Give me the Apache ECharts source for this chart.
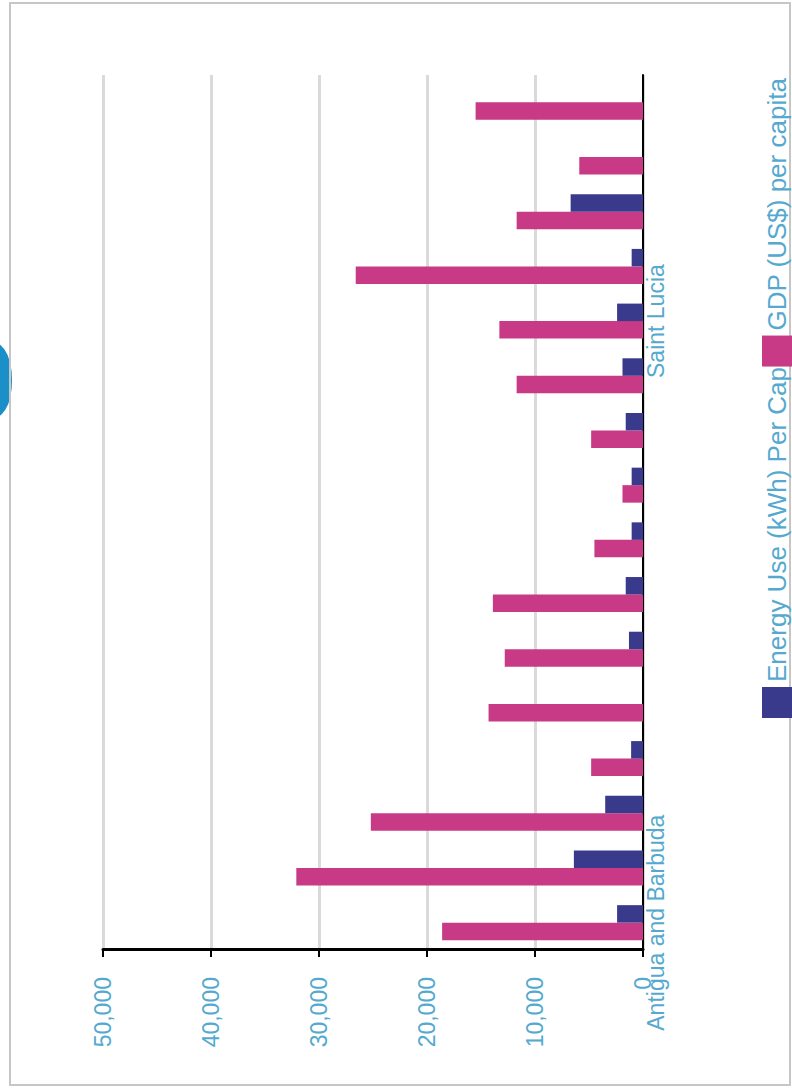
<!DOCTYPE html>
<html>
<head>
<meta charset="utf-8">
<script src="https://cdn.jsdelivr.net/npm/echarts@6/dist/echarts.min.js"></script>
<style>
    html, body { margin: 0; padding: 0; background: #fff; overflow: hidden; }
    body { width: 792px; height: 1089px; position: relative; }
    /* chart is drawn as a normal column chart then turned 90deg, like the source image */
    .turned {
        position: absolute; left: 0; top: 0;
        width: 1089px; height: 792px;
        transform-origin: 0 0;
        transform: translateY(1089px) rotate(-90deg);
    }
</style>
</head>
<body>
<div class="turned"></div>
<script>
// categories, only two labels can be read in the picture
var countries = ["Antigua and Barbuda", "", "", "", "", "", "", "", "", "", "", "Saint Lucia", "", "", "", ""];
var energyName = "Energy Use (kWh) Per Capita";
var gdpName = "GDP (US$) per capita";
var energyUse = [2400, 6400, 3500, 1100, null, 1300, 1600, 1050, 1050, 1600, 1900, 2400, 1050, 6700, null, null];
var gdpPerCapita = [18600, 32100, 25200, 4800, 14300, 12800, 13900, 4500, 1900, 4800, 11700, 13300, 26600, 11700, 5900, 15500];
var valueTicks = [0, 10000, 20000, 30000, 40000, 50000];

(function () {
    var myChart = echarts.init(document.querySelector(".turned"), null, { renderer: "svg" });
    var font = "Liberation Sans, Arial, sans-serif";
    var labelColor = "#55a9cf";
    var option = {
        animation: false,
        textStyle: { fontFamily: font },
        color: ["#c83a86", "#3a3a8c"],
        grid: {
            left: 139,
            top: 103,
            right: 75,
            bottom: 149,
            containLabel: false
        },
        legend: {
            data: [energyName, gdpName],
            left: 366,
            top: 757,
            icon: "rect",
            itemWidth: 31,
            itemHeight: 30,
            itemGap: -27, // second key sits over the end of the first text, as in the source
            textStyle: { color: labelColor, fontSize: 26, fontFamily: font }
        },
        xAxis: {
            type: "category",
            data: countries,
            axisLine: { lineStyle: { color: "#000", width: 2 } },
            axisTick: { length: 5, lineStyle: { color: "#000", width: 2 } },
            axisLabel: { interval: 0, margin: 1, color: labelColor, fontSize: 23, fontFamily: font }
        },
        yAxis: {
            type: "value",
            min: valueTicks[0],
            max: valueTicks[valueTicks.length - 1],
            interval: valueTicks[1] - valueTicks[0],
            axisLine: { show: true, lineStyle: { color: "#000", width: 3 } },
            axisTick: { show: true, length: 7, lineStyle: { color: "#000", width: 2 } },
            axisLabel: {
                margin: 27,
                color: labelColor,
                fontSize: 23,
                fontFamily: font,
                formatter: function (v) { return v.toLocaleString("en-US"); }
            },
            splitLine: { lineStyle: { color: "#dadada", width: 3 } }
        },
        series: [
            {
                name: gdpName,
                type: "bar",
                barGap: "0%",
                barCategoryGap: "36%",
                data: gdpPerCapita
            },
            {
                name: energyName,
                type: "bar",
                barGap: "0%",
                barCategoryGap: "36%",
                data: energyUse
            }
        ],
        graphic: [
            {
                // cut off title letter at the top edge
                type: "text",
                x: 662,
                y: 32,
                style: { text: "S", fill: "#1a8fc8", fontSize: 140, fontWeight: "bold", fontFamily: font, verticalAlign: "bottom" }
            },
            {
                type: "rect",
                shape: { x: 4, y: 10, width: 1082, height: 780 },
                style: { fill: "none", stroke: "#c6c6c6", lineWidth: 2 }
            }
        ]
    };
    myChart.setOption(option);
    window.addEventListener("resize", function () {
        myChart.resize();
    });
})();
</script>
</body>
</html>
